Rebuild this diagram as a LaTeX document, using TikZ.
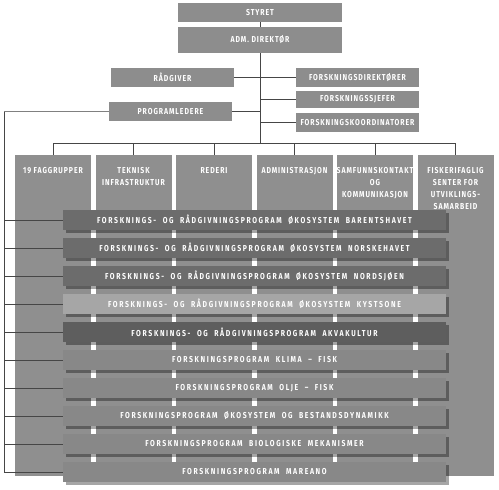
\documentclass[tikz,border=0pt]{standalone}
\usepackage{fontspec}
\usetikzlibrary{shadows}
\newfontfamily\barfont{Fira Sans}[FakeStretch=0.8,LetterSpace=19,WordSpace=2]
\newfontfamily\boxfont{Fira Sans}[FakeStretch=0.8,LetterSpace=11]
\definecolor{boxgray}{RGB}{141,141,141}
\definecolor{colgray}{RGB}{143,143,143}
\definecolor{bardark}{RGB}{108,108,108}
\definecolor{barlight}{RGB}{166,166,166}
\definecolor{bardarker}{RGB}{94,94,94}
\definecolor{barmid}{RGB}{136,136,136}
\definecolor{linegray}{RGB}{70,70,70}
\tikzset{
  boxtext/.style={font=\boxfont\bfseries\fontsize{8.6}{12}\selectfont, text=white},
  bartext/.style={font=\barfont\bfseries\fontsize{8.6}{12}\selectfont, text=white},
  topbox/.style={fill=boxgray, draw=none, boxtext, inner sep=0pt, minimum width=123pt, minimum height=19pt},
  colbox/.style={fill=colgray, draw=none, inner sep=0pt, minimum width=76pt, minimum height=321pt},
  coltext/.style={boxtext, align=center, anchor=north, inner sep=0pt},
  progbar/.style={draw=none, bartext, inner sep=0pt, minimum width=383pt, minimum height=20pt,
     drop shadow={shadow xshift=2.5pt, shadow yshift=-2.5pt, fill=black, opacity=0.35}},
  conn/.style={draw=linegray, line width=0.8pt}
}
\begin{document}
\begin{tikzpicture}[x=1pt,y=-1pt]
\useasboundingbox (0,0) rectangle (499,490);
% top boxes
\node[topbox, minimum width=164pt] (styret) at (260,12.5) {STYRET};
\node[topbox, minimum width=164pt, minimum height=26pt] (adm) at (260,40) {ADM. DIREKTØR};
\node[topbox] (radgiver) at (172.5,77.5) {RÅDGIVER};
\node[topbox] (fdir) at (357.5,77.5) {FORSKNINGSDIREKTØRER};
\node[topbox, minimum height=17pt] (fsjef) at (357.5,99.5) {FORSKNINGSSJEFER};
\node[topbox] (fkoord) at (357.5,122.5) {FORSKNINGSKOORDINATORER};
\node[topbox] (progl) at (170.5,111.5) {PROGRAMLEDERE};
% columns
\foreach \i/\x in {1/53,2/133.5,3/214,4/294.5,5/375,6/455.5}{
  \node[colbox] (c\i) at (\x,315.5) {};
}
\node[coltext] (c1t) at ([yshift=-12.5pt]c1.north) {19 FAGGRUPPER};
\node[coltext] (c2t) at ([yshift=-12.5pt]c2.north) {TEKNISK\\INFRASTRUKTUR};
\node[coltext] (c3t) at ([yshift=-12.5pt]c3.north) {REDERI};
\node[coltext] (c4t) at ([yshift=-12.5pt]c4.north) {ADMINISTRASJON};
\node[coltext] (c5t) at ([yshift=-12.5pt]c5.north) {SAMFUNNSKONTAKT\\OG\\KOMMUNIKASJON};
\node[coltext] (c6t) at ([yshift=-12.5pt]c6.north) {FISKERIFAGLIG\\SENTER FOR\\UTVIKLINGS-\\SAMARBEID};
% connectors top
\draw[conn] (styret.south) -- (adm.north);
\coordinate (bus) at (260,143);
\draw[conn] (adm.south) -- (bus);
\draw[conn] (radgiver.east) -- (fdir.west);
\draw[conn] (fsjef.west) -- (fsjef.west -| adm.south);
\draw[conn] (fkoord.west) -- (fkoord.west -| adm.south);
\draw[conn] (progl.east) -- (progl.east -| adm.south);
\draw[conn] (bus -| c1.north) -- (bus -| c6.north);
\foreach \i in {1,...,6}{
  \draw[conn] (bus -| c\i.north) -- (c\i.north);
}
% program bars
\foreach \i/\c/\t in {
  1/bardark/{FORSKNINGS- OG RÅDGIVNINGSPROGRAM ØKOSYSTEM BARENTSHAVET},
  2/bardark/{FORSKNINGS- OG RÅDGIVNINGSPROGRAM ØKOSYSTEM NORSKEHAVET},
  3/bardark/{FORSKNINGS- OG RÅDGIVNINGSPROGRAM ØKOSYSTEM NORDSJØEN},
  4/barlight/{FORSKNINGS- OG RÅDGIVNINGSPROGRAM ØKOSYSTEM KYSTSONE},
  5/bardarker/{FORSKNINGS- OG RÅDGIVNINGSPROGRAM AKVAKULTUR},
  6/barmid/{FORSKNINGSPROGRAM KLIMA – FISK},
  7/barmid/{FORSKNINGSPROGRAM OLJE – FISK},
  8/barmid/{FORSKNINGSPROGRAM ØKOSYSTEM OG BESTANDSDYNAMIKK},
  9/barmid/{FORSKNINGSPROGRAM BIOLOGISKE MEKANISMER},
  10/barmid/{FORSKNINGSPROGRAM MAREANO}}{
  \node[progbar, fill=\c] (b\i) at (254.5,{220+28*(\i-1)}) {\t};
}
% left connectors
\coordinate (lt) at (4,111.5);
\draw[conn, draw=gray] (progl.west) -- (lt);
\draw[conn] (lt) -- (lt |- b10.west) -- (b10.west);
\foreach \i in {1,...,9}{
  \draw[conn] (lt |- b\i.west) -- (b\i.west);
}
\end{tikzpicture}
\end{document}
